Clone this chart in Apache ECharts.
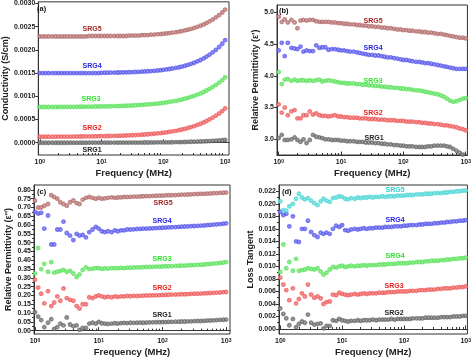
<!DOCTYPE html>
<html><head><meta charset="utf-8">
<script src="https://cdn.jsdelivr.net/npm/echarts@6/dist/echarts.min.js"></script>
<style>html,body{margin:0;padding:0;background:#fff}#c{width:474px;height:358px}</style>
</head><body><div id="c"></div>
<script>
// ---------- data ----------
const freq = [1,1.12,1.25,1.4,1.6,1.8,2,2.24,2.5,2.8,3.15,3.55,4,4.5,5,5.6,6.3,7.1,8,9,
  10,11.2,12.5,14,16,18,20,22.4,25,28,31.5,35.5,40,45,50,56,63,71,80,90,
  100,112,125,140,160,180,200,224,250,280,315,355,400,450,500,560,630,710,800,900,1000];

const xMajorTicks = [1,10,100,1000];
const xMinorTicks = [2,3,4,5,6,7,8,9,20,30,40,50,60,70,80,90,200,300,400,500,600,700,800,900];

// (a) conductivity (S/cm)
const condSRG5 = [0.00229,0.00229,0.00229,0.00229,0.00229,0.00229,0.00229,0.00229,0.00229,0.00229,
  0.00229,0.00229,0.00229,0.00229,0.00229,0.00229,0.0023,0.0023,0.0023,0.0023,
  0.0023,0.0023,0.0023,0.0023,0.0023,0.0023,0.0023,0.0023,0.0023,0.00231,
  0.00231,0.00231,0.00231,0.00232,0.00232,0.00232,0.00233,0.00233,0.00234,0.00234,
  0.002348,0.002355,0.002363,0.002372,0.002382,0.002393,0.002406,0.00242,0.002436,0.002454,
  0.002473,0.002496,0.002521,0.002549,0.002581,0.002616,0.002656,0.002701,0.002751,0.002807,0.00287];
const condSRG4 = [0.0015,0.0015,0.0015,0.0015,0.0015,0.0015,0.0015,0.0015,0.0015,0.0015,
  0.0015,0.0015,0.0015,0.0015,0.0015,0.0015,0.0015,0.0015,0.0015,0.0015,
  0.001507,0.001508,0.001509,0.00151,0.001511,0.001513,0.001514,0.001516,0.001518,0.00152,
  0.001522,0.001525,0.001528,0.001532,0.001536,0.00154,0.001545,0.00155,0.001556,0.001563,
  0.001571,0.00158,0.001589,0.0016,0.001612,0.001626,0.001642,0.001659,0.001678,0.0017,
  0.001724,0.001752,0.001783,0.001817,0.001856,0.001899,0.001948,0.002003,0.002064,0.002133,0.00221];
const condSRG3 = [0.00077,0.00077,0.00077,0.00077,0.00077,0.000771,0.000771,0.000772,0.000772,0.000773,
  0.000773,0.000774,0.000775,0.000776,0.000777,0.000778,0.000779,0.00078,0.000781,0.000782,
  0.000783,0.000784,0.000785,0.000787,0.000789,0.000791,0.000793,0.000796,0.000798,0.000801,
  0.000804,0.000808,0.000812,0.000815,0.000821,0.000826,0.000831,0.000837,0.000844,0.000852,
  0.00086,0.00087,0.00088,0.000892,0.000904,0.000918,0.000933,0.00095,0.000968,0.000988,
  0.001011,0.001036,0.001062,0.001093,0.001126,0.001162,0.001203,0.001247,0.001296,0.00135,0.00141];
const condSRG2 = [0.00013,0.00013,0.00013,0.00013,0.00013,0.000131,0.000131,0.000132,0.000132,0.000133,
  0.000133,0.000134,0.000135,0.000135,0.000136,0.000137,0.000138,0.000139,0.00014,0.000141,
  0.000142,0.000143,0.000145,0.000146,0.000148,0.00015,0.000152,0.000154,0.000157,0.00016,
  0.000162,0.000166,0.00017,0.000173,0.000178,0.000183,0.000189,0.000194,0.000201,0.000208,
  0.000216,0.000225,0.000235,0.000246,0.000257,0.000271,0.000285,0.000301,0.000318,0.000338,
  0.000359,0.000383,0.000409,0.000437,0.000469,0.000504,0.000542,0.000585,0.000631,0.000683,0.00074];
const condSRG1 = [0,0,0,0,0,0,0,0,0,0,
  0.000001,0.000001,0.000001,0.000001,0.000001,0.000001,0.000002,0.000002,0.000002,0.000002,
  0.000002,0.000002,0.000002,0.000003,0.000003,0.000003,0.000003,0.000003,0.000003,0.000004,
  0.000004,0.000004,0.000004,0.000004,0.000005,0.000005,0.000006,0.000006,0.000007,0.000007,
  0.000008,0.000009,0.00001,0.000011,0.000013,0.000014,0.000015,0.000017,0.000019,0.000021,
  0.000023,0.000025,0.000027,0.00003,0.000033,0.000037,0.000041,0.000045,0.000049,0.000054,0.00006];

// (b) relative permittivity e'
const epsRealSRG5 = [4.93,4.85,4.89,4.84,4.88,4.84,4.75,4.87,4.88,4.87,
  4.88,4.88,4.86,4.85,4.85,4.85,4.85,4.84,4.84,4.83,
  4.83,4.82,4.82,4.81,4.81,4.80,4.80,4.79,4.79,4.78,
  4.78,4.77,4.77,4.76,4.76,4.75,4.75,4.74,4.73,4.73,
  4.72,4.72,4.71,4.71,4.70,4.70,4.69,4.69,4.68,4.68,
  4.67,4.66,4.66,4.65,4.64,4.63,4.62,4.61,4.60,4.60,4.59];
const epsRealSRG4 = [4.40,4.52,4.31,4.52,4.44,4.43,4.42,4.46,4.38,4.40,
  4.39,4.39,4.48,4.44,4.45,4.45,4.41,4.42,4.42,4.41,
  4.40,4.40,4.39,4.38,4.38,4.37,4.36,4.35,4.34,4.33,
  4.33,4.32,4.32,4.31,4.30,4.29,4.29,4.28,4.27,4.26,
  4.25,4.25,4.24,4.23,4.22,4.22,4.21,4.20,4.20,4.19,
  4.18,4.17,4.16,4.15,4.14,4.13,4.12,4.11,4.11,4.11,4.11];
const epsRealSRG3 = [4.06,3.87,3.94,3.95,3.92,3.94,3.92,3.93,3.93,3.92,
  3.93,3.92,3.93,3.94,3.91,3.92,3.93,3.92,3.91,3.90,
  3.89,3.89,3.88,3.88,3.88,3.87,3.87,3.86,3.86,3.85,
  3.85,3.84,3.84,3.83,3.83,3.82,3.82,3.81,3.81,3.80,
  3.80,3.79,3.79,3.78,3.77,3.77,3.76,3.75,3.74,3.73,
  3.72,3.71,3.69,3.67,3.64,3.61,3.59,3.60,3.62,3.64,3.65];
const epsRealSRG2 = [3.55,3.42,3.50,3.38,3.44,3.46,3.33,3.33,3.38,3.38,
  3.44,3.39,3.41,3.38,3.37,3.37,3.36,3.37,3.38,3.36,
  3.36,3.35,3.35,3.34,3.34,3.34,3.33,3.33,3.33,3.32,
  3.32,3.32,3.31,3.31,3.31,3.30,3.30,3.30,3.29,3.29,
  3.29,3.28,3.28,3.28,3.27,3.27,3.26,3.26,3.25,3.25,
  3.24,3.24,3.23,3.22,3.22,3.21,3.20,3.19,3.17,3.16,3.14];
const epsRealSRG1 = [3.02,3.07,2.99,2.99,3.00,3.03,2.99,2.96,3.00,2.94,
  2.99,3.07,3.04,3.03,3.02,3.00,3.00,2.99,2.99,2.99,
  2.98,2.98,2.97,2.97,2.97,2.96,2.96,2.96,2.95,2.95,
  2.95,2.94,2.94,2.93,2.93,2.92,2.92,2.91,2.91,2.90,
  2.90,2.89,2.89,2.89,2.88,2.88,2.88,2.88,2.89,2.89,
  2.90,2.90,2.90,2.90,2.89,2.88,2.85,2.82,2.79,2.76,2.74];

// (c) relative permittivity e''
const epsImagSRG5 = [0.74,0.70,0.70,0.71,0.72,0.77,0.76,0.75,0.73,0.72,
  0.71,0.73,0.74,0.725,0.72,0.745,0.755,0.76,0.755,0.75,
  0.755,0.75,0.752,0.755,0.758,0.755,0.757,0.758,0.76,0.76,
  0.761,0.762,0.762,0.763,0.764,0.765,0.765,0.766,0.767,0.768,
  0.768,0.769,0.77,0.77,0.771,0.772,0.773,0.773,0.774,0.775,
  0.776,0.777,0.778,0.778,0.779,0.78,0.781,0.782,0.783,0.784,0.785];
const epsImagSRG4 = [0.675,0.665,0.67,0.58,0.655,0.49,0.49,0.575,0.575,0.62,
  0.555,0.54,0.515,0.55,0.54,0.545,0.53,0.56,0.575,0.59,
  0.58,0.565,0.56,0.565,0.56,0.57,0.565,0.57,0.57,0.575,
  0.575,0.576,0.578,0.579,0.58,0.58,0.581,0.582,0.583,0.584,
  0.585,0.586,0.587,0.588,0.589,0.59,0.591,0.592,0.593,0.594,
  0.595,0.596,0.597,0.598,0.6,0.601,0.603,0.604,0.606,0.608,0.61];
const epsImagSRG3 = [0.325,0.47,0.35,0.38,0.335,0.39,0.33,0.335,0.34,0.345,
  0.335,0.34,0.325,0.305,0.32,0.345,0.36,0.35,0.352,0.356,
  0.355,0.352,0.354,0.353,0.355,0.356,0.355,0.357,0.356,0.358,
  0.358,0.359,0.36,0.36,0.361,0.362,0.362,0.363,0.364,0.364,
  0.365,0.366,0.366,0.367,0.368,0.369,0.37,0.37,0.371,0.372,
  0.373,0.374,0.375,0.376,0.378,0.379,0.381,0.383,0.385,0.387,0.39];
const epsImagSRG2 = [0.29,0.245,0.21,0.155,0.225,0.14,0.16,0.195,0.17,0.24,
  0.185,0.175,0.17,0.14,0.125,0.15,0.15,0.19,0.185,0.195,
  0.2,0.195,0.19,0.193,0.19,0.195,0.192,0.195,0.195,0.197,
  0.196,0.198,0.197,0.198,0.199,0.2,0.2,0.201,0.201,0.202,
  0.203,0.203,0.204,0.205,0.205,0.206,0.207,0.207,0.208,0.209,
  0.21,0.21,0.211,0.212,0.213,0.214,0.215,0.216,0.217,0.219,0.22];
const epsImagSRG1 = [0.105,0.08,0.06,0.02,0.045,0.065,0.01,0.02,0.04,0.03,
  0.075,0.035,0.025,0.03,0.005,0.015,0.015,0.04,0.045,0.04,
  0.05,0.042,0.04,0.038,0.04,0.042,0.04,0.043,0.044,0.043,
  0.045,0.044,0.045,0.046,0.045,0.046,0.047,0.047,0.048,0.048,
  0.049,0.049,0.05,0.05,0.051,0.051,0.052,0.052,0.053,0.053,
  0.054,0.055,0.055,0.056,0.057,0.058,0.059,0.06,0.061,0.062,0.063];

// (d) loss tangent
const tanCyan = [0.0204,0.019,0.0189,0.0196,0.02,0.0208,0.0216,0.021,0.0207,0.0209,
  0.0205,0.0201,0.0198,0.0204,0.0208,0.0205,0.0203,0.0209,0.021,0.0212,
  0.0211,0.0208,0.0207,0.0209,0.0208,0.021,0.0209,0.021,0.021,0.0211,
  0.021,0.0211,0.0211,0.0212,0.0211,0.0212,0.0212,0.0212,0.0213,0.0213,
  0.0213,0.0214,0.0214,0.0214,0.0215,0.0215,0.0215,0.0216,0.0216,0.0216,
  0.0217,0.0217,0.0217,0.0218,0.0218,0.0219,0.0219,0.022,0.022,0.0221,0.0221];
const tanBlue = [0.0187,0.0182,0.0184,0.0164,0.018,0.014,0.0139,0.016,0.016,0.0173,
  0.0155,0.015,0.0147,0.0154,0.0152,0.0154,0.0152,0.016,0.0165,0.0163,
  0.0166,0.0158,0.0157,0.0159,0.016,0.0159,0.016,0.0161,0.016,0.0161,
  0.0161,0.0162,0.0162,0.0162,0.0163,0.0163,0.0163,0.0164,0.0164,0.0164,
  0.0165,0.0165,0.0166,0.0166,0.0166,0.0167,0.0167,0.0168,0.0168,0.0168,
  0.0169,0.0169,0.017,0.017,0.0171,0.0171,0.0172,0.0172,0.0173,0.0173,0.0174];
const tanGreen = [0.0091,0.0135,0.0097,0.0107,0.0093,0.0112,0.0093,0.0094,0.0095,0.0097,
  0.0096,0.0095,0.0097,0.0092,0.0087,0.009,0.0095,0.0099,0.0098,0.01,
  0.0101,0.0099,0.01,0.0101,0.01,0.0101,0.0101,0.0102,0.0101,0.0102,
  0.0102,0.0102,0.0103,0.0103,0.0103,0.0104,0.0104,0.0104,0.0105,0.0105,
  0.0105,0.0105,0.0106,0.0106,0.0107,0.0107,0.0107,0.0108,0.0108,0.0109,
  0.0109,0.0109,0.011,0.011,0.0111,0.0111,0.0112,0.0112,0.0113,0.0113,0.0114];
const tanRed = [0.0082,0.0071,0.0062,0.0046,0.0065,0.0041,0.0048,0.0057,0.0052,0.0071,
  0.0055,0.005,0.0052,0.0049,0.004,0.0043,0.0044,0.0055,0.0054,0.0058,
  0.0056,0.0055,0.0054,0.0055,0.0056,0.0055,0.0056,0.0057,0.0056,0.0057,
  0.0057,0.0057,0.0058,0.0058,0.0058,0.0059,0.0059,0.0059,0.006,0.006,
  0.006,0.006,0.0061,0.0061,0.0061,0.0062,0.0062,0.0062,0.0063,0.0063,
  0.0063,0.0064,0.0064,0.0065,0.0065,0.0065,0.0066,0.0066,0.0067,0.0067,0.0068];
const tanGray = [0.0033,0.0024,0.0017,0.0006,0.0016,0.0003,0.0008,0.0012,0.001,0.0023,
  0.001,0.0007,0.0008,0.0009,0.0001,0.0005,0.0005,0.0014,0.0013,0.0016,
  0.0014,0.0013,0.0012,0.0013,0.0013,0.0014,0.0013,0.0014,0.0014,0.0014,
  0.0015,0.0014,0.0015,0.0015,0.0015,0.0015,0.0016,0.0015,0.0016,0.0016,
  0.0016,0.0016,0.0016,0.0017,0.0017,0.0017,0.0017,0.0018,0.0018,0.0018,
  0.0018,0.0018,0.0019,0.0019,0.0019,0.0019,0.002,0.002,0.002,0.0021,0.0021];

// tick values of the y axes
const yTicksA = [0,0.0005,0.001,0.0015,0.002,0.0025,0.003];
const yTicksB = [3.0,3.5,4.0,4.5,5.0];
const yTicksC = [0,0.05,0.1,0.15,0.2,0.25,0.3,0.35,0.4,0.45,0.5,0.55,0.6,0.65,0.7,0.75,0.8];
const yMinorC = [0.025,0.075,0.125,0.175,0.225,0.275,0.325,0.375,0.425,0.475,0.525,0.575,0.625,0.675,0.725,0.775];
const yTicksD = [0,0.002,0.004,0.006,0.008,0.01,0.012,0.014,0.016,0.018,0.02,0.022];
const yMinorD = [0.001,0.003,0.005,0.007,0.009,0.011,0.013,0.015,0.017,0.019,0.021];

// ---------- styling ----------
const FONT = '"Liberation Sans", Arial, sans-serif';
const COL = {g:'#666666', r:'#ef5a5a', gr:'#5ae25a', b:'#5656ec', m:'#b46a6a', c:'#4cd6d6'};
const LBL = {g:'#222222', r:'#e82020', gr:'#30e030', b:'#2828e0', m:'#a02828', c:'#30d0d0'};

const panels = [
  {grid:{left:35,top:1,width:194,height:154}, x:[0.947,1156], y:[-0.000264,0.003036],
   yt:yTicksA, ym:null, dec:4, title:'Conductivity (S/cm)', gap:25,
   ser:[[condSRG1,COL.g],[condSRG2,COL.r],[condSRG3,COL.gr],[condSRG4,COL.b],[condSRG5,COL.m]]},
  {grid:{left:277,top:5,width:191,height:150}, x:[0.94,1065], y:[2.753,5.115],
   yt:yTicksB, ym:null, dec:1, title:"Relative Permittivity (ε')", gap:16,
   ser:[[epsRealSRG1,COL.g],[epsRealSRG2,COL.r],[epsRealSRG3,COL.gr],[epsRealSRG4,COL.b],[epsRealSRG5,COL.m]]},
  {grid:{left:34,top:185,width:196,height:149}, x:[0.9646,1150], y:[-0.019,0.828],
   yt:yTicksC, ym:yMinorC, dec:2, title:"Relative Permittivity (ε'')", gap:20,
   ser:[[epsImagSRG1,COL.g],[epsImagSRG2,COL.r],[epsImagSRG3,COL.gr],[epsImagSRG4,COL.b],[epsImagSRG5,COL.m]]},
  {grid:{left:279,top:185,width:189,height:149}, x:[0.953,1065], y:[-0.0008,0.023],
   yt:yTicksD, ym:yMinorD, dec:3, title:'Loss Tangent', gap:21,
   ser:[[tanGray,COL.g],[tanRed,COL.r],[tanGreen,COL.gr],[tanBlue,COL.b],[tanCyan,COL.c]]}
];

const seriesLabels = [
  [ ['SRG5',LBL.m,92,29],['SRG4',LBL.b,92,66],['SRG3',LBL.gr,91,99.5],['SRG2',LBL.r,92,128.5],['SRG1',LBL.g,92,150] ],
  [ ['SRG5',LBL.m,373,21],['SRG4',LBL.b,373,48],['SRG3',LBL.gr,373,81],['SRG2',LBL.r,373,113],['SRG1',LBL.g,374,138] ],
  [ ['SRG5',LBL.m,163,203],['SRG4',LBL.b,162,221],['SRG3',LBL.gr,162,259],['SRG2',LBL.r,162,288],['SRG1',LBL.g,162,315.5] ],
  [ ['SRG5',LBL.c,395,190.5],['SRG4',LBL.b,395,220],['SRG4',LBL.gr,395,256.5],['SRG3',LBL.r,394,286],['SRG2',LBL.g,394,313] ]
];
const panelTags = [['(a)',37,8.5],['(b)',279,11],['(c)',37,191.5],['(d)',282,191.5]];

const grids=[], xAxes=[], yAxes=[], series=[], graphics=[];
const axisCol = '#333333';
panels.forEach((p,k)=>{
  grids.push(Object.assign({show:true, borderColor:axisCol, borderWidth:1, backgroundColor:'transparent'}, p.grid));
  xAxes.push({type:'log', logBase:10, gridIndex:k, position:'bottom', min:p.x[0], max:p.x[1],
    axisLine:{show:true, lineStyle:{color:axisCol,width:1}},
    axisTick:{show:true, inside:true, length:3.5, customValues:xMajorTicks, lineStyle:{color:axisCol}},
    axisLabel:{show:true, customValues:xMajorTicks, margin:4,
      formatter:v=>'{b|10}{s|'+Math.round(Math.log10(v))+'}',
      rich:{b:{fontFamily:FONT,fontWeight:'bold',fontSize:7,color:'#222'},
            s:{fontFamily:FONT,fontWeight:'bold',fontSize:5,color:'#222',verticalAlign:'top'}}},
    splitLine:{show:false},
    name:'Frequency (MHz)', nameLocation:'middle', nameGap:13,
    nameTextStyle:{fontFamily:FONT,fontWeight:'bold',fontSize:9.5,color:'#222'}});
  xAxes.push({type:'log', logBase:10, gridIndex:k, position:'bottom', min:p.x[0], max:p.x[1],
    axisLine:{show:false},
    axisTick:{show:true, inside:true, length:2, customValues:xMinorTicks, lineStyle:{color:axisCol}},
    axisLabel:{show:false}, splitLine:{show:false}});
  yAxes.push({type:'value', gridIndex:k, position:'left', min:p.y[0], max:p.y[1],
    axisLine:{show:true, lineStyle:{color:axisCol,width:1}},
    axisTick:{show:true, inside:false, length:3, customValues:p.yt, lineStyle:{color:axisCol}},
    axisLabel:{show:true, customValues:p.yt, margin:3, formatter:v=>v.toFixed(p.dec),
      fontFamily:FONT, fontWeight:'bold', fontSize:7, color:'#222'},
    splitLine:{show:false},
    name:p.title, nameLocation:'middle', nameGap:p.gap,
    nameTextStyle:{fontFamily:FONT,fontWeight:'bold',fontSize:9,color:'#222'}});
  if (p.ym) {
    yAxes.push({type:'value', gridIndex:k, position:'left', min:p.y[0], max:p.y[1],
      axisLine:{show:false},
      axisTick:{show:true, inside:false, length:2, customValues:p.ym, lineStyle:{color:axisCol}},
      axisLabel:{show:false}, splitLine:{show:false}});
  }
  const xIdx = xAxes.length-2;
  const yIdx = yAxes.length-(p.ym?2:1);
  p.ser.forEach(([vals,col])=>{
    series.push({type:'scatter', xAxisIndex:xIdx, yAxisIndex:yIdx,
      data: freq.map((f,i)=>[f, vals[i]]),
      symbol:'emptyCircle', symbolSize:2.8,
      itemStyle:{color:col, borderColor:col, borderWidth:0.7},
      emphasis:{disabled:true}, silent:true, clip:true});
  });
  seriesLabels[k].forEach(([t,c,x,y])=>{
    graphics.push({type:'text', x:x, y:y, silent:true, z:100,
      style:{text:t, fill:c, font:'bold 7px '+FONT, align:'center', verticalAlign:'middle',
             textAlign:'center', textVerticalAlign:'middle'}});
  });
});
panelTags.forEach(([t,x,y])=>{
  graphics.push({type:'text', x:x, y:y, silent:true, z:100,
    style:{text:t, fill:'#111', font:'bold 7.5px '+FONT, align:'left', verticalAlign:'middle',
           textAlign:'left', textVerticalAlign:'middle'}});
});

const chart = echarts.init(document.getElementById('c'), null, {renderer:'canvas'});
chart.setOption({
  animation:false, backgroundColor:'#ffffff',
  grid:grids, xAxis:xAxes, yAxis:yAxes, series:series, graphic:graphics
});
</script>
</body></html>
